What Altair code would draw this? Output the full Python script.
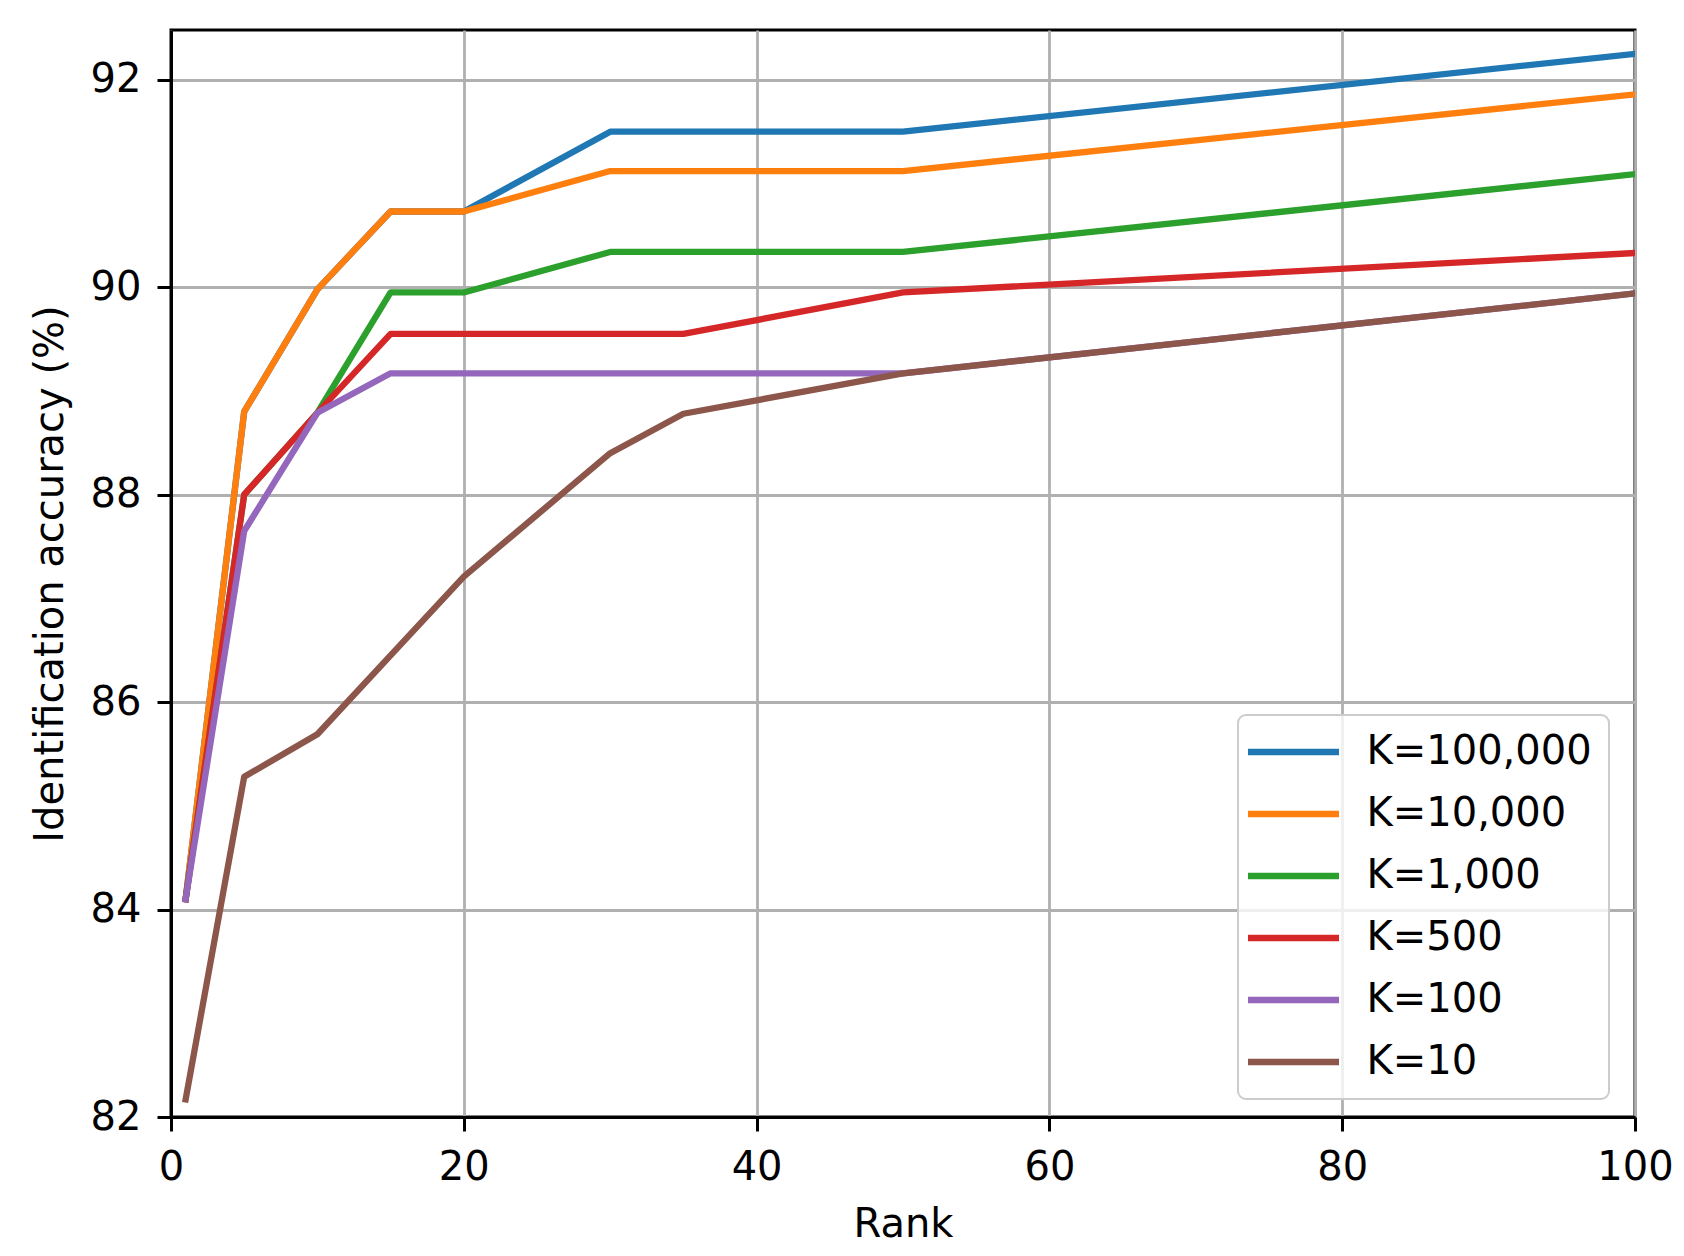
import altair as alt
import pandas as pd

# ---- data ----
ranks = [1, 5, 10, 15, 20, 30, 35, 50, 100]
series_labels = ["K=100,000", "K=10,000", "K=1,000", "K=500", "K=100", "K=10"]
series_colors = ["#1f77b4", "#ff7f0e", "#2ca02c", "#d62728", "#9467bd", "#8c564b"]
acc_k100000 = [84.10, 88.80, 89.98, 90.73, 90.73, 91.50, 91.50, 91.50, 92.25]
acc_k10000 = [84.10, 88.80, 89.98, 90.73, 90.73, 91.12, 91.12, 91.12, 91.86]
acc_k1000 = [84.10, 88.00, 88.79, 89.95, 89.95, 90.34, 90.34, 90.34, 91.09]
acc_k500 = [84.10, 88.00, 88.79, 89.55, 89.55, 89.55, 89.55, 89.95, 90.33]
acc_k100 = [84.10, 87.65, 88.79, 89.17, 89.17, 89.17, 89.17, 89.17, 89.94]
acc_k10 = [82.17, 85.28, 85.69, 86.45, 87.21, 88.40, 88.78, 89.17, 89.94]
x_ticks = [0, 20, 40, 60, 80, 100]
y_ticks = [82, 84, 86, 88, 90, 92]

all_series = [acc_k100000, acc_k10000, acc_k1000, acc_k500, acc_k100, acc_k10]
rows = []
for order, (label, vals) in enumerate(zip(series_labels, all_series)):
    for r, v in zip(ranks, vals):
        rows.append({"Rank": r, "Accuracy": v, "K": label, "order": order})
df = pd.DataFrame(rows)

FONT = "DejaVu Sans"
FS = 40

chart = (
    alt.Chart(df)
    .mark_line(strokeWidth=6.3, strokeCap="square", strokeJoin="round", clip=True)
    .encode(
        x=alt.X(
            "Rank:Q",
            scale=alt.Scale(domain=[0, 100], nice=False, zero=False),
            axis=alt.Axis(title="Rank", values=x_ticks, format="d"),
        ),
        y=alt.Y(
            "Accuracy:Q",
            scale=alt.Scale(domain=[82, 92.48], nice=False, zero=False),
            axis=alt.Axis(title="Identification accuracy (%)", values=y_ticks, format="d"),
        ),
        color=alt.Color(
            "K:N",
            sort=series_labels,
            scale=alt.Scale(domain=series_labels, range=series_colors),
            legend=alt.Legend(
                title=None,
                orient="none",
                legendX=1067,
                legendY=685,
                symbolType="M-2.9,0H2.9",
                symbolSize=985,
                symbolStrokeWidth=6.3,
                symbolOffset=18.5,
                labelOffset=53,
                labelFontSize=FS,
                labelFont=FONT,
                labelColor="black",
                labelLimit=500,
                rowPadding=22,
                padding=17,
                fillColor="rgba(255,255,255,0.8)",
                strokeColor="#cccccc",
                cornerRadius=8,
            ),
        ),
        order=alt.Order("order:Q"),
        detail="K:N",
    )
    .properties(
        width=1464,
        height=1087,
        autosize=alt.AutoSizeParams(type="none"),
        padding={"left": 163, "top": 22, "right": 40, "bottom": 134},
    )
    .configure_view(stroke="black", strokeWidth=3)
    .configure_axis(
        domainColor="black",
        domainWidth=3,
        tickColor="black",
        tickWidth=3,
        tickSize=14,
        labelPadding=16,
        labelFont=FONT,
        labelFontSize=FS,
        labelColor="black",
        titleFont=FONT,
        titleFontSize=FS,
        titleFontWeight="normal",
        titleColor="black",
        grid=True,
        gridColor="#b0b0b0",
        gridWidth=2.8,
        gridOpacity=1,
        labelFlush=False,
    )
    .configure_axisY(titlePadding=20)
    .configure_axisX(titlePadding=17)
    .configure_legend(strokeWidth=2)
)

chart.save("out.html", embed_options={"renderer": "svg", "actions": False})
